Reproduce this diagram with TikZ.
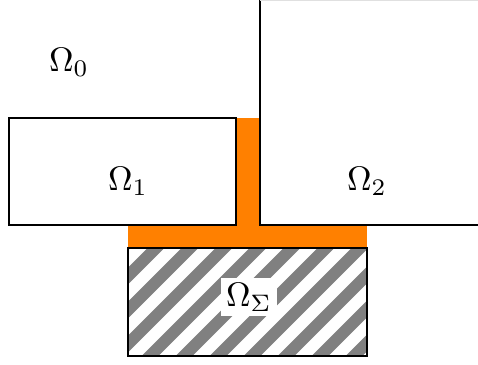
\documentclass[tikz,border=0pt]{standalone}
\definecolor{bandorange}{RGB}{255,128,0}
\definecolor{stripegray}{RGB}{128,128,128}
\tikzset{
  region/.style={draw=black, line width=0.4pt},
  lbl/.style={inner sep=1pt},
}
\begin{document}
\begin{tikzpicture}[x=0.294pt,y=-0.294pt]
\useasboundingbox (0,0) rectangle (478,365);
\clip (0,0) rectangle (478,365);
% orange interface
\fill[bandorange] (236,118) rectangle (260,225);
\fill[bandorange] (128,225) rectangle (367,248);
% hatched region
\fill[white] (128,248) rectangle (367,356);
\begin{scope}
  \clip (128,248) rectangle (367,356);
  \foreach \k in {0,...,13} {
    \draw[stripegray, line width=12*0.294pt] (-10+\k*34,380) -- (-10+\k*34+160,220);
  }
\end{scope}
\draw[region] (128,248) rectangle (367,356);
% boxes
\draw[region] (9,118) rectangle (236,225);
\draw[region] (260,-0.2) rectangle (485,225);
\draw[black!12, line width=0.4pt] (260,0.3) -- (478,0.3);
% labels
\node[lbl] (o0) at (69,62) {$\Omega_0$};
\node[lbl] (o1) at (128,181) {$\Omega_1$};
\node[lbl] (o2) at (367,181) {$\Omega_2$};
\node[lbl, fill=white, inner sep=1.5pt] (os) at (249,297) {$\Omega_\Sigma$};
\end{tikzpicture}
\end{document}
